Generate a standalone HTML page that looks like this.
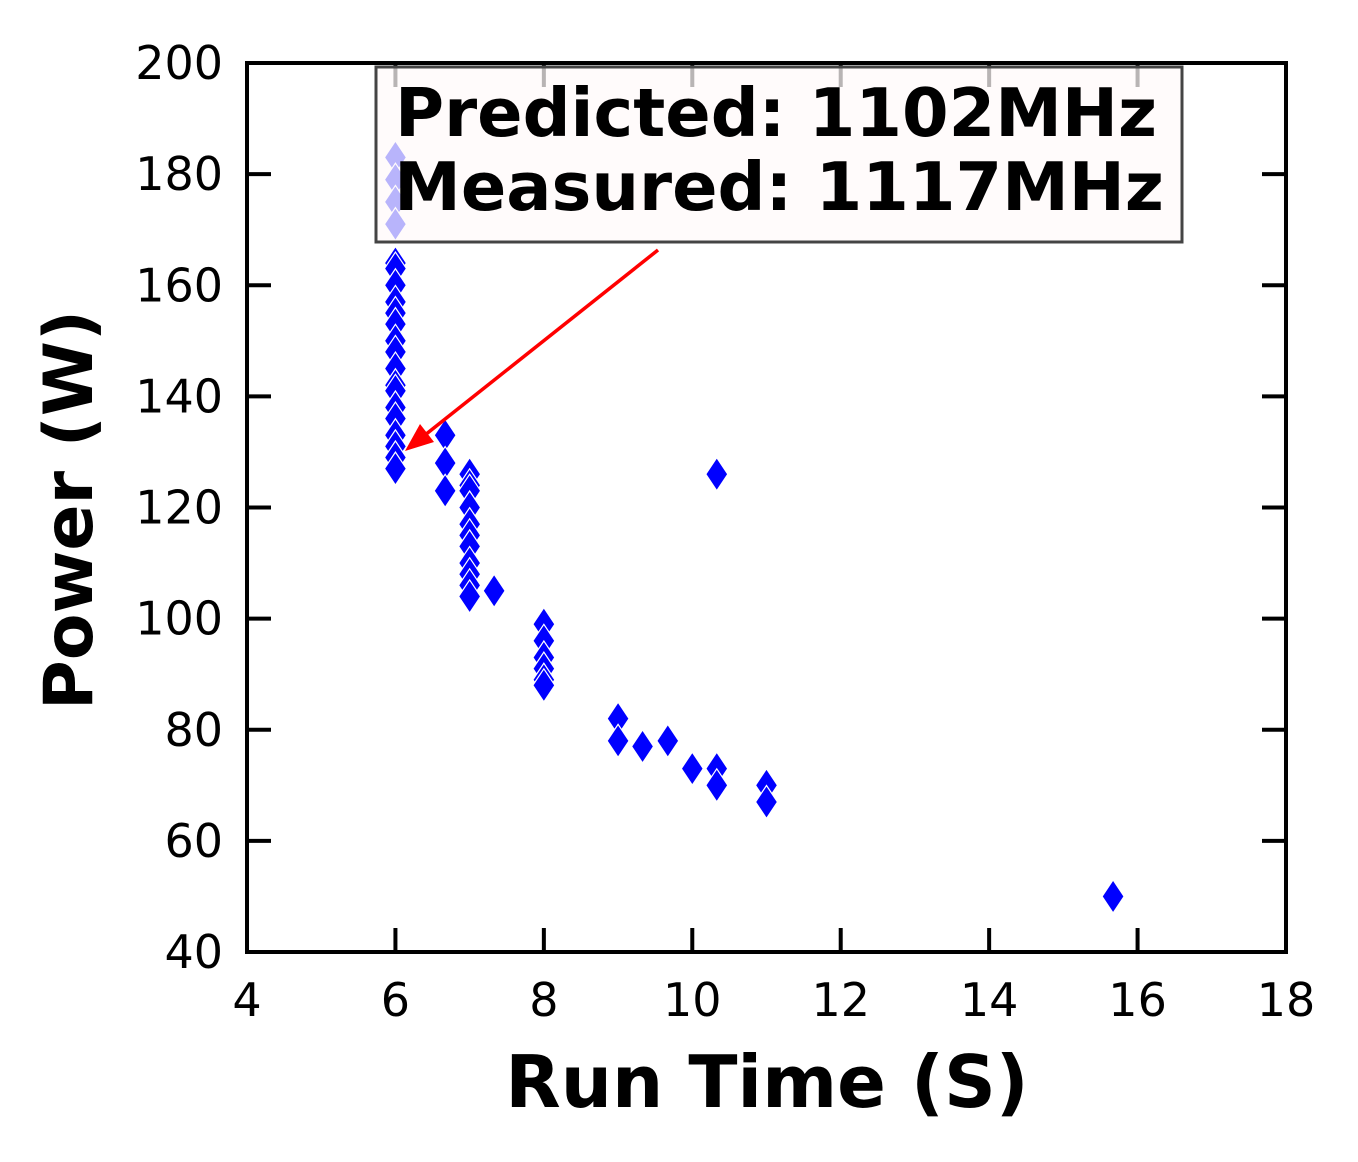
<!DOCTYPE html>
<html><head><meta charset="utf-8"><style>
html,body{margin:0;padding:0;background:#fff;}
svg{display:block;font-family:"DejaVu Sans","Liberation Sans",sans-serif;}
</style></head><body>
<svg width="1358" height="1162" viewBox="0 0 1358 1162">
<g id="marks"></g>
<g id="axes"></g>
<rect x="376" y="67" width="806" height="175" fill="#fffafa" fill-opacity="0.72" stroke="#444" stroke-width="3"/>
<text x="776" y="136" font-size="67" font-weight="bold" text-anchor="middle">Predicted: 1102MHz</text>
<text x="779" y="210" font-size="67" font-weight="bold" text-anchor="middle">Measured: 1117MHz</text>
<line x1="658" y1="250" x2="425" y2="435" stroke="#f00" stroke-width="3.5"/>
<polygon points="405,451 420,424 434,442" fill="#f00"/>
<text x="767" y="1107" font-size="72" font-weight="bold" text-anchor="middle">Run Time (S)</text>
<text transform="translate(92,510) rotate(-90)" font-size="68" font-weight="bold" text-anchor="middle">Power (W)</text>
</svg>
<script>
const xs=[6,6,6,6,6,6,6,6,6,6,6,6,6,6,6,6,6,6,6,6,6,6.67,6.67,6.67,7,7,7,7,7,7,7,7,7,7,7,7.33,8,8,8,8,8,8,9,9,9.33,9.67,10,10.33,10.33,10.33,11,11,15.67];
const ys=[183,179,175,171,164,163,160,157,155,153,150,148,145,142,141,138,136,133,131,129,127,133,128,123,126,124,123,120,117,115,113,110,108,106,104,105,99,96,93,91,89,88,82,78,77,78,73,73,70,126,70,67,50];
const xTicks=[4,6,8,10,12,14,16,18];
const yTicks=[40,60,80,100,120,140,160,180,200];
const L=247,R=1286,T=63,B=952;
const sx=v=>L+(v-4)/14*(R-L), sy=v=>B-(v-40)/160*(B-T);
const NS="http://www.w3.org/2000/svg";
const marks=document.getElementById('marks'), axes=document.getElementById('axes');
function mk(tag,attrs,parent){const e=document.createElementNS(NS,tag);for(const k in attrs)e.setAttribute(k,attrs[k]);parent.appendChild(e);return e;}
xs.forEach((x,i)=>{const cx=sx(x),cy=sy(ys[i]);
const p=mk('polygon',{points:`${cx},${cy-16.5} ${cx+11},${cy} ${cx},${cy+16.5} ${cx-11},${cy}`,fill:'#0000ff',stroke:'#fff','stroke-width':1.2},marks);

});
const fr=mk('rect',{x:L,y:T,width:R-L,height:B-T,fill:'none',stroke:'#000','stroke-width':4},axes);


xTicks.forEach(v=>{const x=sx(v);
mk('line',{x1:x,y1:B,x2:x,y2:B-24,stroke:'#000','stroke-width':4},axes);
mk('line',{x1:x,y1:T,x2:x,y2:T+24,stroke:'#000','stroke-width':4},axes);
const t=mk('text',{x:x,y:B+64,'font-size':46,'text-anchor':'middle'},axes);t.textContent=v;

});
yTicks.forEach(v=>{const y=sy(v);
mk('line',{x1:L,y1:y,x2:L+24,y2:y,stroke:'#000','stroke-width':4},axes);
mk('line',{x1:R,y1:y,x2:R-24,y2:y,stroke:'#000','stroke-width':4},axes);
const t=mk('text',{x:L-24,y:y+16,'font-size':46,'text-anchor':'end'},axes);t.textContent=v;

});
</script>
</body></html>
